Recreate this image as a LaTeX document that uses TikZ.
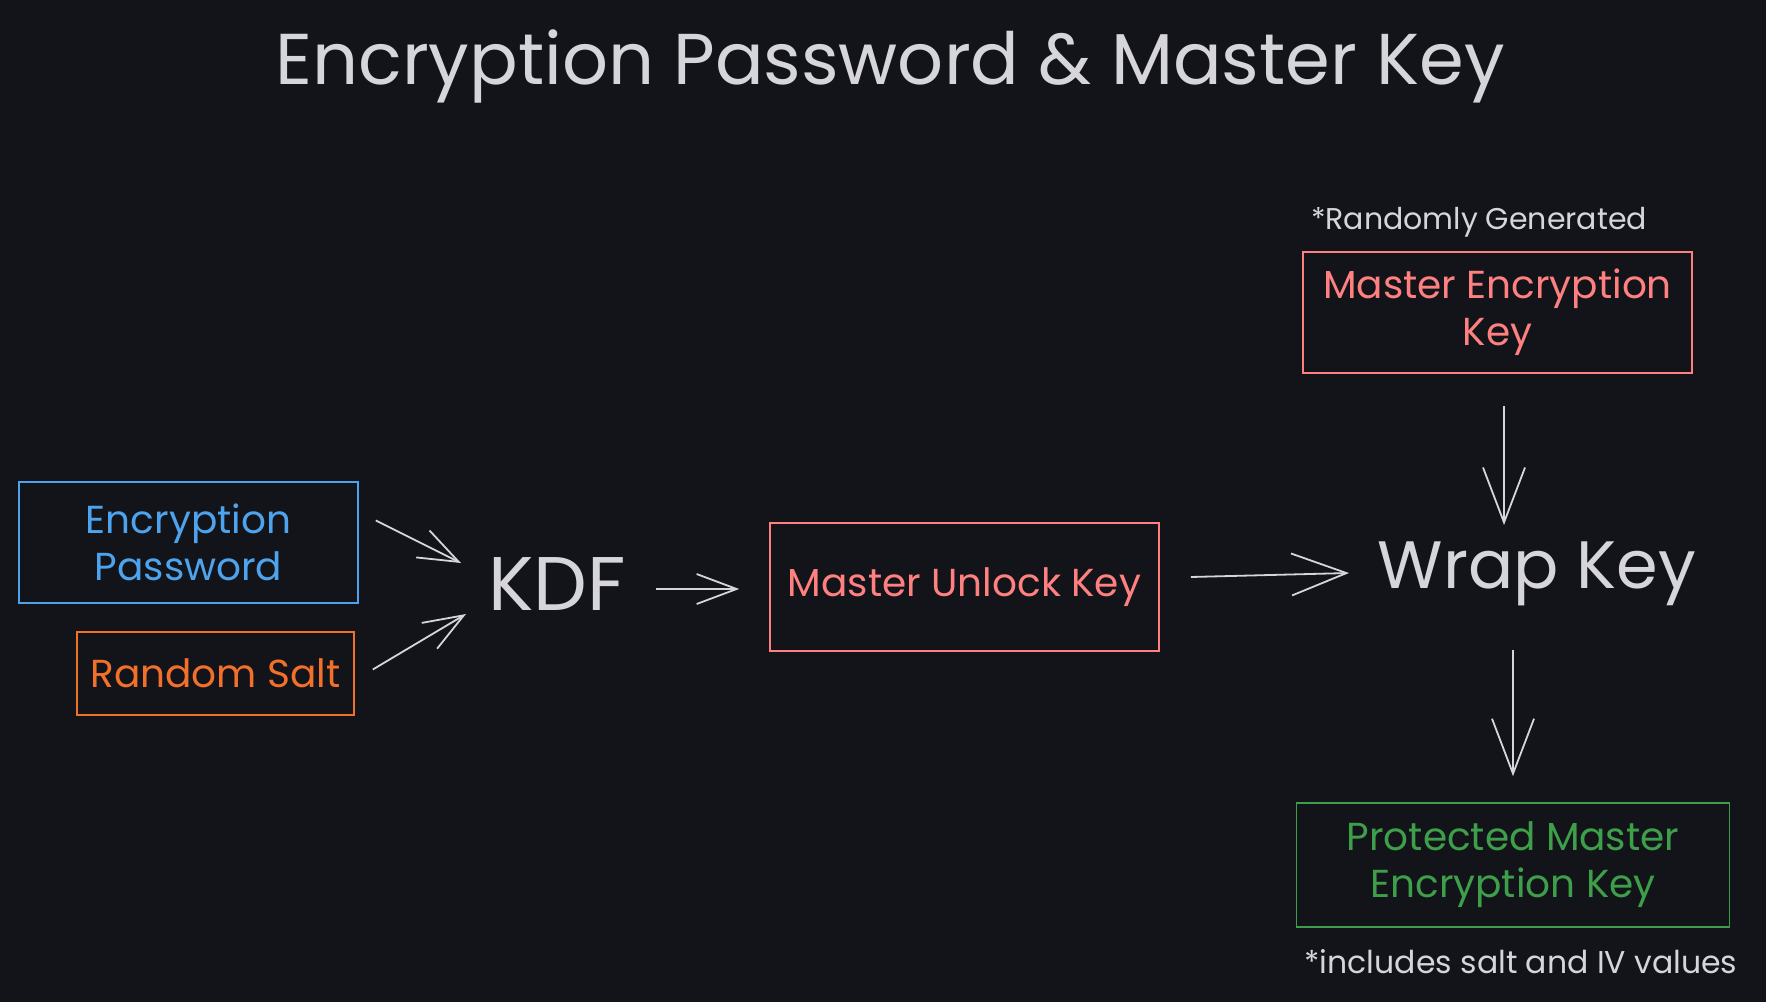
\documentclass[tikz,border=0pt]{standalone}
\usepackage{fontspec}
\setmainfont{Poppins}
\usetikzlibrary{positioning, arrows.meta}
\definecolor{bgdark}{HTML}{121419}
\definecolor{inkgrey}{HTML}{D6D6DA}
\definecolor{keypink}{HTML}{FF8080}
\definecolor{pwblue}{HTML}{4DA3EE}
\definecolor{saltorange}{HTML}{F2702A}
\definecolor{safegreen}{HTML}{3E9F4A}
\newcommand{\titlesize}{\fontsize{72}{84}\selectfont}
\newcommand{\bigsize}{\fontsize{76}{88}\selectfont}
\newcommand{\wrapsize}{\fontsize{67}{78}\selectfont}
\newcommand{\boxsize}{\fontsize{39}{47}\selectfont}
\newcommand{\notesize}{\fontsize{30}{36}\selectfont}
\tikzset{
    keybox/.style={draw, line width=1.6pt, inner sep=0pt, align=center, font=\boxsize},
    bigword/.style={text=inkgrey, font=\bigsize, anchor=base, inner sep=0pt},
    sidenote/.style={text=inkgrey, font=\notesize, anchor=base, inner sep=0pt},
    flow/.style={draw=inkgrey, line width=1.8pt, -{Straight Barb[length=55pt,width=42pt]}},
    shortflow/.style={flow, -{Straight Barb[length=40pt,width=30pt]}}
}

\begin{document}
\begin{tikzpicture}[x=1pt,y=-1pt]
        % Draw dark background
        \fill[bgdark] (0,0) rectangle (1766,1002);
        % Draw title
        \node[text=inkgrey, font=\titlesize, anchor=base, inner sep=0pt] (title) at (890,84) {Encryption Password \& Master Key};
        % Draw inputs
        \node[keybox, draw=pwblue, text=pwblue, minimum width=339pt, minimum height=121pt] (password) at (188.5,542.5) {Encryption\\Password};
        \node[keybox, draw=saltorange, text=saltorange, minimum width=277pt, minimum height=83pt] (salt) at (215.5,673.5) {Random Salt};
        % Draw KDF and unlock key
        \node[bigword] (kdf) at (557,610) {KDF};
        \node[keybox, draw=keypink, text=keypink, minimum width=389pt, minimum height=128pt] (unlock) at (964.5,587) {Master Unlock Key};
        % Draw wrap step
        \node[bigword, font=\wrapsize] (wrap) at (1537,588) {Wrap Key};
        % Draw master encryption key with its note
        \node[sidenote] (randnote) at (1479,229) {*Randomly Generated};
        \node[keybox, draw=keypink, text=keypink, minimum width=389pt, minimum height=121pt] (master) at (1497.5,312.5) {Master Encryption\\Key};
        % Draw protected key with its note
        \node[keybox, draw=safegreen, text=safegreen, minimum width=433pt, minimum height=124pt] (protected) at (1513,865) {Protected Master\\Encryption Key};
        \node[sidenote, font=\fontsize{31.5}{36}\selectfont] (ivnote) at (1521,973) {*includes salt and IV values};
        % Draw arrows
        \draw[shortflow] ([shift={(17,-22)}]password.east) -- ([shift={(-96,-47)}]kdf.base);
        \draw[shortflow] ([shift={(18,-4)}]salt.east) -- ([shift={(-91,4)}]kdf.base);
        \draw[shortflow] ([shift={(99,-21)}]kdf.base) -- ([shift={(-30,2)}]unlock.west);
        \draw[flow] ([shift={(31,-10)}]unlock.east) -- ([shift={(-188,-15)}]wrap.base);
        \draw[flow] ([shift={(6.5,32)}]master.south) -- ([shift={(-33,-63)}]wrap.base);
        \draw[flow] ([shift={(-24,62)}]wrap.base) -- ([shift={(0,-26)}]protected.north);
    \end{tikzpicture}
\end{document}
